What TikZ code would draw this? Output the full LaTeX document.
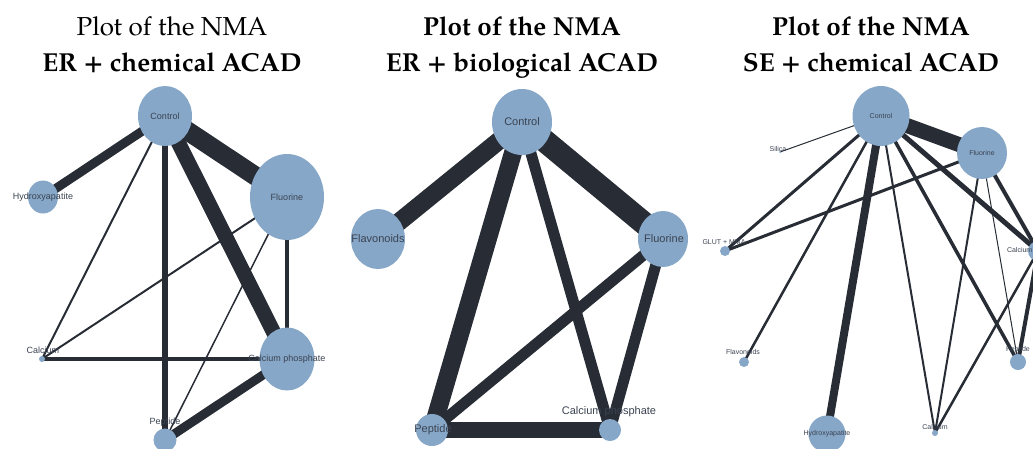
\documentclass[tikz,border=0pt]{standalone}
\usepackage{fontspec}
\newfontfamily\labfont{Liberation Sans}
\newfontfamily\palfont{TeX Gyre Pagella}
\usetikzlibrary{shapes.geometric}
\definecolor{nodeblue}{RGB}{134,167,199}
\definecolor{edgec}{RGB}{39,44,53}
\definecolor{labc}{RGB}{59,67,82}
\pgfdeclarelayer{bg}
\pgfsetlayers{bg,main}
\tikzset{
  nd/.style={ellipse, fill=nodeblue, draw=none, inner sep=0pt},
  ed/.style={draw=edgec},
  labA/.style={font=\labfont\fontsize{9}{9}\selectfont, text=labc, inner sep=0pt},
  labB/.style={font=\labfont\fontsize{11}{11}\selectfont, text=labc, inner sep=0pt},
  labC/.style={font=\labfont\fontsize{7}{7}\selectfont, text=labc, inner sep=0pt},
  ttl/.style={font=\palfont\fontsize{26}{30}\selectfont, anchor=base, inner sep=0pt},
  ttlb/.style={font=\palfont\bfseries\fontsize{26}{30}\selectfont, anchor=base, inner sep=0pt}
}
\begin{document}
\begin{tikzpicture}[x=1pt,y=-1pt]
\useasboundingbox (0,0) rectangle (1033,448);
% ---------- titles
\node[ttl]  (t1a) at (172,35) {Plot of the NMA};
\node[ttlb] (t1b) at (172,71) {ER + chemical ACAD};
\node[ttlb] (t2a) at (522,35) {Plot of the NMA};
\node[ttlb] (t2b) at (522,71) {ER + biological ACAD};
\node[ttlb] (t3a) at (871,35) {Plot of the NMA};
\node[ttlb] (t3b) at (871,71) {SE + chemical ACAD};
% ---------- panel 1
\node[nd, minimum width=54pt, minimum height=60pt] (aC) at (165,116) {};
\node[nd, minimum width=30pt, minimum height=33pt] (aH) at (43,197) {};
\node[nd, minimum width=74pt, minimum height=86pt] (aF) at (287,197) {};
\node[nd, minimum width=6pt, minimum height=6pt] (aCa) at (42,359) {};
\node[nd, minimum width=55pt, minimum height=63pt] (aCP) at (287,359) {};
\node[nd, minimum width=23pt, minimum height=23pt] (aP) at (165,440) {};
\node[labA] (aCL) at (165,116) {Control};
\node[labA] (aHL) at (43,197) {Hydroxyapatite};
\node[labA] (aFL) at (287,197) {Fluorine};
\node[labA] (aCaL) at (43,350) {Calcium};
\node[labA] (aCPL) at (287,359) {Calcium phosphate};
\node[labA] (aPL) at (165,422) {Peptide};
\begin{pgfonlayer}{bg}
\draw[ed, line width=9pt] (aC.center) -- (aH.center);
\draw[ed, line width=19pt] (aC.center) -- (aF.center);
\draw[ed, line width=15pt] (aC.center) -- (aCP.center);
\draw[ed, line width=6pt] (aC.center) -- (aP.center);
\draw[ed, line width=2pt] (aC.center) -- (aCa.center);
\draw[ed, line width=2pt] (aF.center) -- (aCa.center);
\draw[ed, line width=1.5pt] (aF.center) -- (aP.center);
\draw[ed, line width=4pt] (aF.center) -- (aCP.center);
\draw[ed, line width=4pt] (aCa.center) -- (aCP.center);
\draw[ed, line width=9pt] (aCP.center) -- (aP.center);
\end{pgfonlayer}
% ---------- panel 2
\node[nd, minimum width=60pt, minimum height=66pt] (bC) at (522,122) {};
\node[nd, minimum width=54pt, minimum height=60pt] (bFl) at (378,239) {};
\node[nd, minimum width=50pt, minimum height=56pt] (bF) at (663,239) {};
\node[nd, minimum width=32pt, minimum height=32pt] (bP) at (432,430) {};
\node[nd, minimum width=22pt, minimum height=22pt] (bCP) at (610,430) {};
\node[labB] (bCL) at (522,122) {Control};
\node[labB] (bFlL) at (378,239) {Flavonoids};
\node[labB] (bFL) at (664,239) {Fluorine};
\node[labB] (bPL) at (433,430) {Peptide};
\node[labB] (bCPL) at (609,412) {Calcium phosphate};
\begin{pgfonlayer}{bg}
\draw[ed, line width=18pt] (bC.center) -- (bFl.center);
\draw[ed, line width=23pt] (bC.center) -- (bF.center);
\draw[ed, line width=18pt] (bC.center) -- (bP.center);
\draw[ed, line width=11pt] (bC.center) -- (bCP.center);
\draw[ed, line width=11pt] (bF.center) -- (bP.center);
\draw[ed, line width=11pt] (bF.center) -- (bCP.center);
\draw[ed, line width=16pt] (bP.center) -- (bCP.center);
\end{pgfonlayer}
% ---------- panel 3
\node[nd, minimum width=57pt, minimum height=60pt] (cC) at (881,116) {};
\node[nd, minimum width=50pt, minimum height=52pt] (cF) at (982,153) {};
\node[nd, minimum width=2pt, minimum height=2pt] (cS) at (780,152) {};
\node[nd, minimum width=10pt, minimum height=10pt] (cG) at (725,251) {};
\node[nd, minimum width=10pt, minimum height=10pt] (cFl) at (744,362) {};
\node[nd, minimum width=37pt, minimum height=37pt] (cH) at (827,434) {};
\node[nd, minimum width=6pt, minimum height=6pt] (cCa) at (935,433) {};
\node[nd, minimum width=16pt, minimum height=16pt] (cP) at (1018,362) {};
\node[nd, minimum width=20pt, minimum height=20pt] (cCP) at (1038,251) {};
\node[labC] (cCL) at (881,116) {Control};
\node[labC] (cFL) at (982,153) {Fluorine};
\node[labC] (cSL) at (778,149) {Silica};
\node[labC] (cGL) at (724,242) {GLUT + MMA};
\node[labC] (cFlL) at (743,352) {Flavonoids};
\node[labC] (cHL) at (827,434) {Hydroxyapatite};
\node[labC] (cCaL) at (935,427) {Calcium};
\node[labC] (cPL) at (1018,350) {Peptide};
\node[labC] (cCPL) at (1037,251) {Calcium phosphate};
\begin{pgfonlayer}{bg}
\draw[ed, line width=1pt] (cC.center) -- (cS.center);
\draw[ed, line width=15pt] (cC.center) -- (cF.center);
\draw[ed, line width=3pt] (cC.center) -- (cG.center);
\draw[ed, line width=2.5pt] (cC.center) -- (cFl.center);
\draw[ed, line width=8pt] (cC.center) -- (cH.center);
\draw[ed, line width=2pt] (cC.center) -- (cCa.center);
\draw[ed, line width=3.5pt] (cC.center) -- (cP.center);
\draw[ed, line width=5pt] (cC.center) -- (cCP.center);
\draw[ed, line width=3pt] (cF.center) -- (cG.center);
\draw[ed, line width=2pt] (cF.center) -- (cCa.center);
\draw[ed, line width=1pt] (cF.center) -- (cP.center);
\draw[ed, line width=4pt] (cF.center) -- (cCP.center);
\draw[ed, line width=2.5pt] (cCP.center) -- (cCa.center);
\draw[ed, line width=4pt] (cCP.center) -- (cP.center);
\end{pgfonlayer}
\end{tikzpicture}
\end{document}
